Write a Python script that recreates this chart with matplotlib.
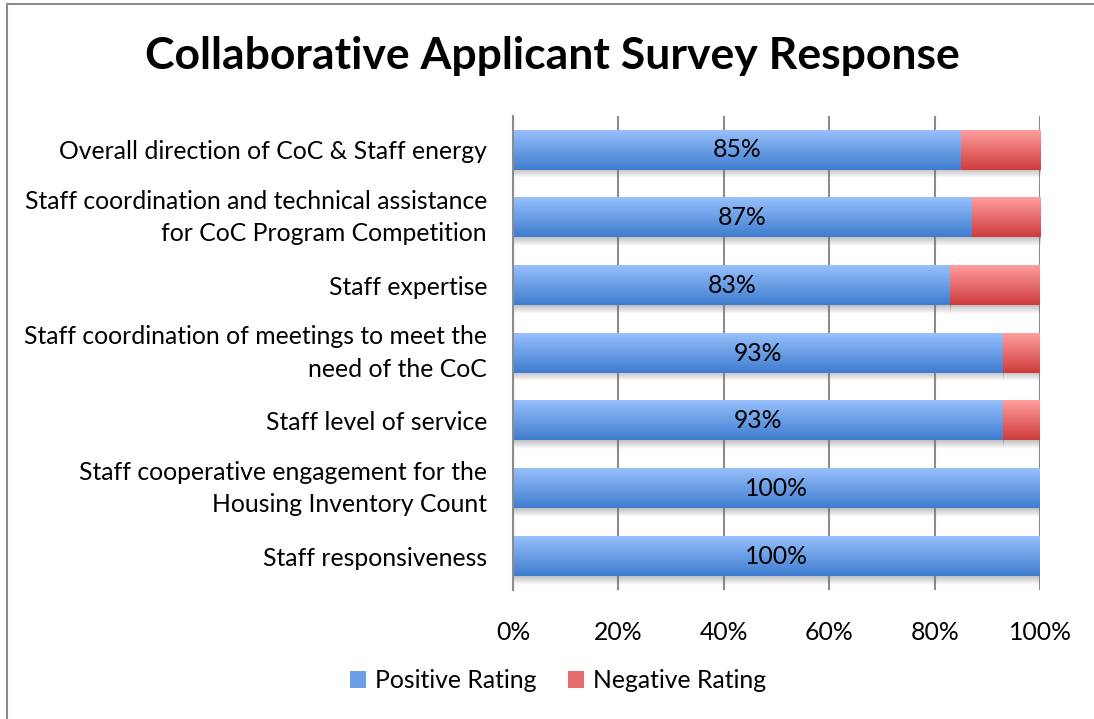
import numpy as np
import matplotlib
matplotlib.use('Agg')
import matplotlib.pyplot as plt
from matplotlib.colors import LinearSegmentedColormap
from matplotlib.patches import Patch
from matplotlib.lines import Line2D
from matplotlib.transforms import ScaledTranslation

# Survey data (top to bottom as shown)
categories = [
    'Overall direction of CoC & Staff energy',
    'Staff coordination and technical assistance\nfor CoC Program Competition',
    'Staff expertise',
    'Staff coordination of meetings to meet the\nneed of the CoC',
    'Staff level of service',
    'Staff cooperative engagement for the\nHousing Inventory Count',
    'Staff responsiveness',
]
positive = [85, 87, 83, 93, 93, 100, 100]
negative = [15, 13, 17, 7, 7, 0, 0]
xticks = [0, 20, 40, 60, 80, 100]
xtick_labels = ['0%', '20%', '40%', '60%', '80%', '100%']
series_names = ['Positive Rating', 'Negative Rating']

plt.rcParams['font.family'] = ['Lato', 'DejaVu Sans']
fs = 17.8

blue_cmap = LinearSegmentedColormap.from_list('blue', ['#3f7dd0', '#97bffb'])
red_cmap = LinearSegmentedColormap.from_list('red', ['#cf3c3c', '#ff9d9d'])

fig = plt.figure(figsize=(10.94, 7.19), dpi=100)
ax = fig.add_axes([0.469, 0.1794, 0.4817, 0.6592])

ypos = np.arange(len(categories))[::-1]
bar_h = 0.58
grad = np.linspace(0, 1, 64).reshape(-1, 1)

pos_bars = ax.barh(ypos, positive, height=bar_h, color='none', zorder=3)
neg_bars = ax.barh(ypos, negative, left=positive, height=bar_h, color='none', zorder=3)

# gradient fills and soft shadows
shadow = np.zeros((32, 1, 4))
shadow[..., :3] = 0.45
shadow[:, 0, 3] = np.linspace(0, 0.45, 32)
for bars, cmap in [(pos_bars, blue_cmap), (neg_bars, red_cmap)]:
    for p in bars:
        x0, y0, w, h = p.get_x(), p.get_y(), p.get_width(), p.get_height()
        if w <= 0:
            continue
        ax.imshow(grad, cmap=cmap, origin='lower', aspect='auto',
                  extent=(x0, x0 + w, y0, y0 + h), zorder=3)
        ax.imshow(shadow, origin='lower', aspect='auto',
                  extent=(x0, x0 + w, y0 - 0.13, y0), zorder=2)

for y, v in zip(ypos, positive):
    ax.text(v / 2, y, f'{v}%', ha='center', va='center', fontsize=fs, zorder=4)

ax.set_xlim(0, 100)
ax.set_ylim(-0.5, len(categories) - 0.5)
ax.set_xticks(xticks)
ax.set_xticklabels(xtick_labels, fontsize=fs)
ax.set_yticks([])
ax.tick_params(axis='x', length=0, pad=22)

# category labels, drawn as text so they can be placed finely
for y, cat in zip(ypos, categories):
    dy = 0.0 if '\n' in cat else -0.02
    tr = ax.get_yaxis_transform() + ScaledTranslation(-0.26, dy, fig.dpi_scale_trans)
    ax.text(0, y, cat, transform=tr, ha='right', va='center', fontsize=fs,
            linespacing=1.5, multialignment='right')

ax.xaxis.grid(True, color='#8c8c8c', linewidth=1.5, zorder=1)
ax.set_axisbelow(True)
for side in ['top', 'right', 'bottom']:
    ax.spines[side].set_visible(False)
ax.spines['left'].set_color('#8c8c8c')
ax.spines['left'].set_linewidth(1.5)
ax.spines['left'].set_zorder(5)

fig.suptitle('Collaborative Applicant Survey Response', fontsize=32,
             fontweight='bold', x=0.505, y=0.922, va='center')

handles = [Patch(facecolor='#6c9ee6'), Patch(facecolor='#e76e6e')]
fig.legend(handles, series_names, loc='center', bbox_to_anchor=(0.51, 0.053),
           ncol=2, frameon=False, fontsize=fs, handlelength=0.65,
           handleheight=0.65, handletextpad=0.35, columnspacing=1.3)

# chart border (left and top edges)
fig.add_artist(Line2D([7 / 1094, 7 / 1094], [0, 1 - 4 / 719], color='#8c8c8c',
                      linewidth=1.5, transform=fig.transFigure))
fig.add_artist(Line2D([7 / 1094, 1], [1 - 4 / 719, 1 - 4 / 719], color='#8c8c8c',
                      linewidth=1.5, transform=fig.transFigure))

fig.savefig('out.png', dpi=100)
